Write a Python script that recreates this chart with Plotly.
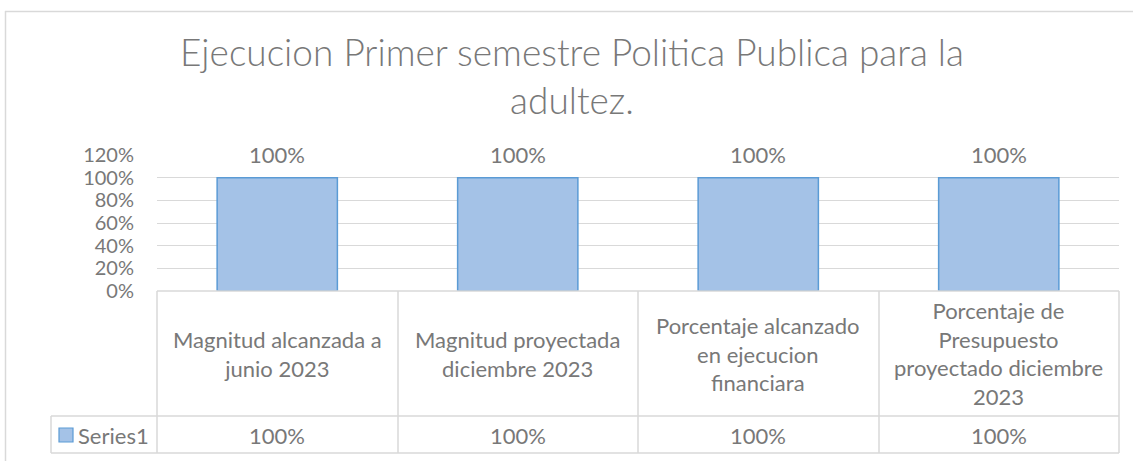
import plotly.graph_objects as go

# ---- data ----
categories = [
    "Magnitud alcanzada a<br>junio 2023",
    "Magnitud proyectada<br>diciembre 2023",
    "Porcentaje alcanzado<br>en ejecucion<br>financiara",
    "Porcentaje de<br>Presupuesto<br>proyectado diciembre<br>2023",
]
values = [1.0, 1.0, 1.0, 1.0]
series_name = "Series1"
title_text = "Ejecucion Primer semestre Politica Publica para la<br>adultez."
y_tickvals = [0, 0.2, 0.4, 0.6, 0.8, 1.0, 1.2]

# ---- layout helpers (pixel -> paper) ----
W, H = 1133, 461
def px(x):
    return x / W
def py(y):
    return 1 - y / H

TXT = "#787878"
GRID = "#d9d9d9"
FONT = "Lato"
BAR_FILL = "#a4c2e7"
BAR_LINE = "#5b9bd5"
FS = 22

def pct(v):
    return f"{v*100:.0f}%"

fig = go.Figure()
fig.add_trace(go.Bar(
    x=categories, y=values, width=0.5, name=series_name,
    marker=dict(color=BAR_FILL, line=dict(color=BAR_LINE, width=1.5)),
    hoverinfo="skip",
))

x0, x1 = 157, 1119
y_top, y_zero = 155, 291

annotations = []
# data labels above bars
for c, v in zip(categories, values):
    annotations.append(dict(x=c, y=v, xref="x", yref="y", text=pct(v), showarrow=False,
                            yshift=23, font=dict(family=FONT, size=FS, color=TXT)))
# category cells
for c in categories:
    annotations.append(dict(x=c, y=py(353.5), xref="x", yref="paper", text=c, showarrow=False,
                            yanchor="middle", align="center",
                            font=dict(family=FONT, size=FS, color=TXT)))
# value cells
for c, v in zip(categories, values):
    annotations.append(dict(x=c, y=py(435), xref="x", yref="paper", text=pct(v), showarrow=False,
                            yanchor="middle", font=dict(family=FONT, size=FS, color=TXT)))
# series name cell
annotations.append(dict(x=px(76), y=py(435), xref="paper", yref="paper", text=series_name,
                        showarrow=False, xanchor="left", yanchor="middle",
                        font=dict(family=FONT, size=FS, color=TXT)))

shapes = []
def hline(y, xa, xb):
    shapes.append(dict(type="line", xref="paper", yref="paper", x0=px(xa), x1=px(xb),
                       y0=py(y), y1=py(y), line=dict(color=GRID, width=1.5)))
def vline(x, ya, yb):
    shapes.append(dict(type="line", xref="paper", yref="paper", x0=px(x), x1=px(x),
                       y0=py(ya), y1=py(yb), line=dict(color=GRID, width=1.5)))

# table
hline(291, x0, x1)
hline(416, 51, x1)
hline(453, 51, x1)
for xv in [157, 398, 638, 879, 1119]:
    vline(xv, 291, 453)
vline(51, 416, 453)
# legend key
shapes.append(dict(type="rect", xref="paper", yref="paper", x0=px(59), x1=px(73),
                   y0=py(442), y1=py(428), fillcolor=BAR_FILL,
                   line=dict(color=BAR_LINE, width=1.2)))
# chart outer border
vline(5.5, 11, 470)
hline(11.5, 5, 1140)

fig.update_layout(
    template="none",
    width=W, height=H, autosize=False,
    margin=dict(l=0, r=0, t=0, b=0, pad=0, autoexpand=False),
    paper_bgcolor="white", plot_bgcolor="white",
    showlegend=False,
    title=dict(text=title_text, x=px(572), xref="paper", xanchor="center", y=py(66), yref="paper",
               yanchor="middle", automargin=False,
               font=dict(family=FONT, size=37, color=TXT, weight=300)),
    xaxis=dict(domain=[px(x0), px(x1)], range=[-0.5, 3.5], showticklabels=False,
               showgrid=False, zeroline=False, showline=False, fixedrange=True,
               automargin=False),
    yaxis=dict(domain=[py(y_zero), py(y_top)], range=[0, 1.2], tickvals=y_tickvals,
               tickformat=".0%", showgrid=True, gridcolor=GRID, gridwidth=1.3,
               zeroline=False, showline=False, ticks="", ticklabelstandoff=22,
               automargin=False, fixedrange=True,
               tickfont=dict(family=FONT, size=20, color=TXT)),
    annotations=annotations,
    shapes=shapes,
)

fig.write_html(
    "out.html",
    config={"displayModeBar": False},
    post_script="document.body.style.margin='0';document.body.style.overflow='hidden';",
)
